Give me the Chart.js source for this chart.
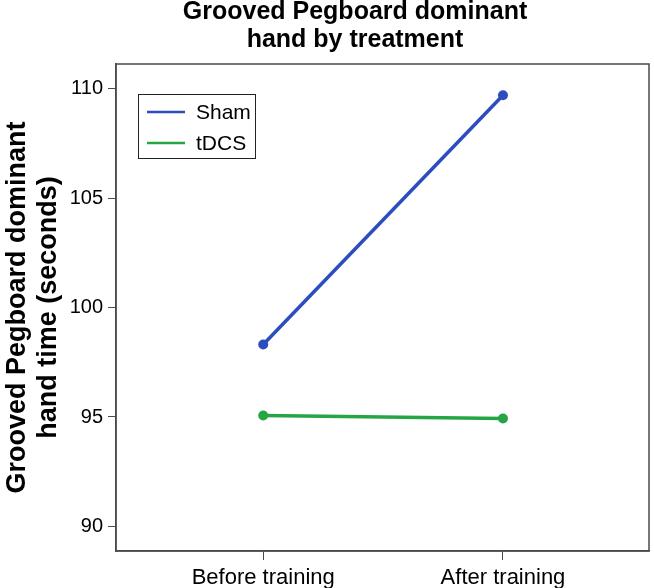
<!DOCTYPE html>
<html>
<head>
<meta charset="utf-8">
<script src="https://cdn.jsdelivr.net/npm/chart.js@4.4.1/dist/chart.umd.min.js"></script>
<style>
  html, body { margin: 0; padding: 0; background: #fff; }
  #wrap { width: 654px; height: 588px; position: relative; }
</style>
</head>
<body>
<div id="wrap"><canvas id="chart"></canvas></div>
<script>
// Data
const categories = ['Before training', 'After training'];
const shamTimes = [98.31, 109.69];
const tdcsTimes = [95.07, 94.93];
const yTicks = [90, 95, 100, 105, 110];
const titleLines = ['Grooved Pegboard dominant', 'hand by treatment'];
const yTitleLines = ['Grooved Pegboard dominant', 'hand time (seconds)'];

const FONT = "'Liberation Sans', Arial, Helvetica, sans-serif";
const SHAM_COLOR = '#2c4dc0';
const TDCS_COLOR = '#26a545';

function toPoints(values) {
    return values.map((v, i) => ({ x: i, y: v }));
}

// Title, boxed legend and the frame round the plot
const framePlugin = {
    id: 'frame',
    afterDraw(chart) {
        const { ctx, chartArea: a } = chart;
        ctx.save();

        ctx.strokeStyle = '#4a4a4a';
        ctx.lineWidth = 1.5;
        ctx.strokeRect(a.left, a.top, a.right - a.left, a.bottom - a.top);

        // title
        ctx.fillStyle = '#000';
        ctx.font = `bold 25px ${FONT}`;
        ctx.textAlign = 'center';
        ctx.textBaseline = 'middle';
        ctx.fillText(titleLines[0], 355, 12);
        ctx.fillText(titleLines[1], 355, 40);

        // legend
        const lx = a.left + 22, ly = a.top + 30;
        ctx.strokeStyle = '#222';
        ctx.lineWidth = 1;
        ctx.strokeRect(lx + 0.5, ly + 0.5, 117, 64);
        ctx.font = `21px ${FONT}`;
        ctx.textAlign = 'left';
        chart.data.datasets.forEach((ds, i) => {
            const y = ly + 18 + i * 31;
            ctx.strokeStyle = ds.borderColor;
            ctx.lineWidth = 2.5;
            ctx.beginPath();
            ctx.moveTo(lx + 9, y);
            ctx.lineTo(lx + 47, y);
            ctx.stroke();
            ctx.fillStyle = '#000';
            ctx.fillText(ds.label, lx + 58, y + 1);
        });
        ctx.restore();
    }
};

const ctx = document.getElementById('chart').getContext('2d');
new Chart(ctx, {
    type: 'line',
    data: {
        datasets: [
            {
                label: 'Sham',
                data: toPoints(shamTimes),
                borderColor: SHAM_COLOR,
                backgroundColor: SHAM_COLOR,
                borderWidth: 3.5,
                pointRadius: 5,
                pointBorderWidth: 0,
                tension: 0
            },
            {
                label: 'tDCS',
                data: toPoints(tdcsTimes),
                borderColor: TDCS_COLOR,
                backgroundColor: TDCS_COLOR,
                borderWidth: 3.5,
                pointRadius: 5,
                pointBorderWidth: 0,
                tension: 0
            }
        ]
    },
    options: {
        responsive: true,
        maintainAspectRatio: false,
        animation: false,
        layout: { padding: { top: 64, right: 1, left: 0, bottom: 0 } },
        plugins: {
            legend: { display: false },
            title: { display: false },
            tooltip: { enabled: false }
        },
        scales: {
            x: {
                type: 'linear',
                min: -0.614,
                max: 1.609,
                afterBuildTicks: s => { s.ticks = categories.map((c, i) => ({ value: i })); },
                afterFit: s => { s.height = 37; },
                grid: { drawOnChartArea: false, drawTicks: true, tickLength: 9, color: '#4a4a4a' },
                border: { display: true, color: '#4a4a4a', width: 1.5 },
                ticks: {
                    color: '#000',
                    padding: 5,
                    maxRotation: 0,
                    font: { family: FONT, size: 22 },
                    callback: v => categories[v]
                }
            },
            y: {
                min: 88.88,
                max: 111.12,
                afterBuildTicks: s => { s.ticks = yTicks.map(v => ({ value: v })); },
                afterFit: s => { s.width = 116; },
                grid: { drawOnChartArea: false, drawTicks: true, tickLength: 8, color: '#4a4a4a' },
                border: { display: true, color: '#4a4a4a', width: 1.5 },
                ticks: {
                    color: '#000',
                    padding: 5,
                    font: { family: FONT, size: 20 }
                },
                title: {
                    display: true,
                    text: yTitleLines,
                    color: '#000',
                    padding: { top: 2, bottom: 0 },
                    font: { family: FONT, size: 27, weight: 'bold', lineHeight: 1.15 }
                }
            }
        }
    },
    plugins: [framePlugin]
});
</script>
</body>
</html>
